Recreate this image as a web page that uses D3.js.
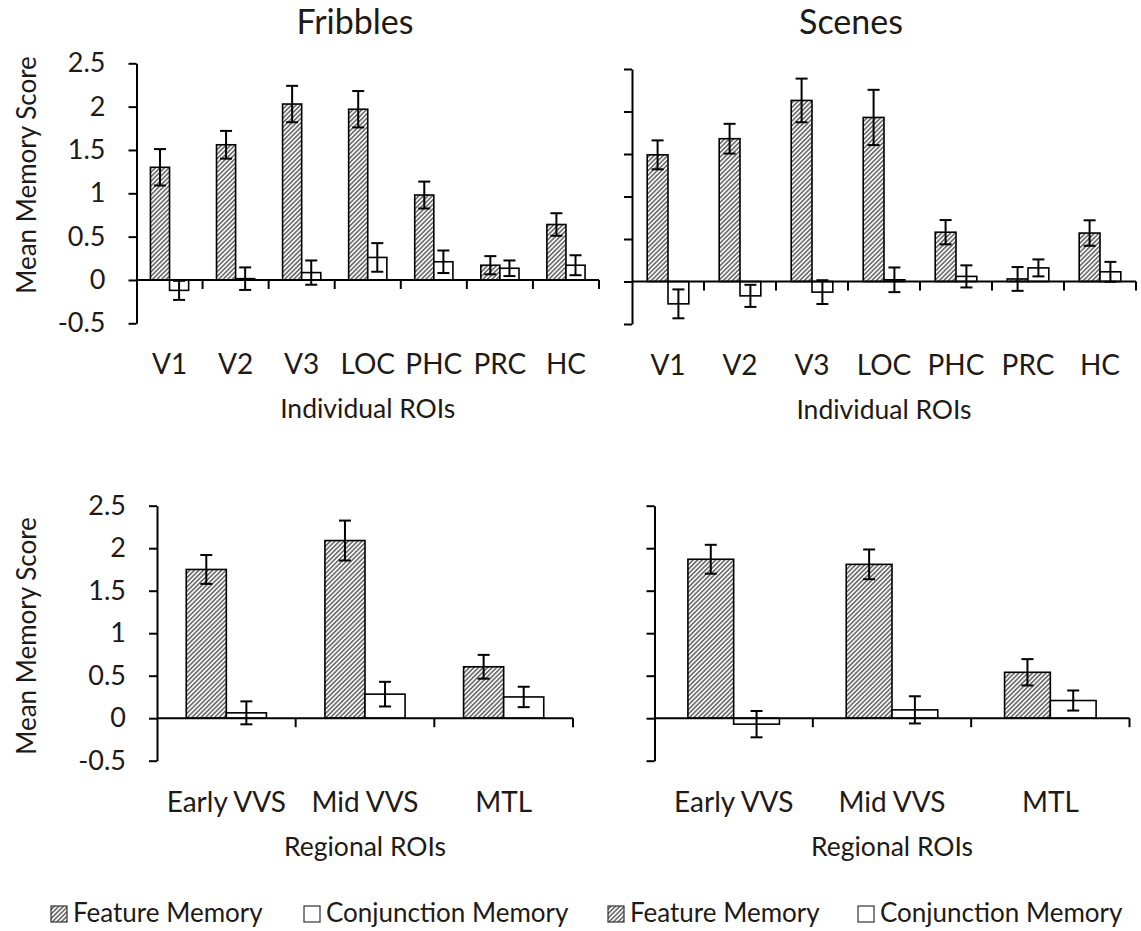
<!DOCTYPE html>
<html><head><meta charset="UTF-8">
  <title>Feature vs Conjunction Memory</title>
  <script src="https://cdn.jsdelivr.net/npm/d3@7"></script>
  <style>
    body { margin: 0; background: #fff; }
    text { font-family: Lato, "Open Sans", sans-serif; fill: #1e1a17; }
  </style>
</head>
<body>
  <svg width="1141" height="931"></svg>
  <script>
    // categories
    const individualROIs = ["V1", "V2", "V3", "LOC", "PHC", "PRC", "HC"];
    const regionalROIs = ["Early VVS", "Mid VVS", "MTL"];
    const series = ["Feature Memory", "Conjunction Memory"];
    const yTicks = [-0.5, 0, 0.5, 1, 1.5, 2, 2.5];

    // Fribbles, individual ROIs
    const fribIndFeature = [1.30, 1.56, 2.03, 1.97, 0.98, 0.17, 0.64];
    const fribIndFeatureErr = [0.21, 0.16, 0.21, 0.21, 0.155, 0.105, 0.13];
    const fribIndConj = [-0.12, 0.015, 0.085, 0.26, 0.21, 0.135, 0.17];
    const fribIndConjErr = [0.11, 0.13, 0.14, 0.165, 0.13, 0.09, 0.115];

    // Scenes, individual ROIs
    const sceneIndFeature = [1.49, 1.68, 2.13, 1.93, 0.58, 0.03, 0.57];
    const sceneIndFeatureErr = [0.17, 0.175, 0.257, 0.325, 0.143, 0.14, 0.15];
    const sceneIndConj = [-0.263, -0.169, -0.125, 0.02, 0.06, 0.16, 0.114];
    const sceneIndConjErr = [0.17, 0.13, 0.14, 0.145, 0.13, 0.10, 0.117];

    // Fribbles, regional ROIs
    const fribRegFeature = [1.75, 2.09, 0.605];
    const fribRegFeatureErr = [0.17, 0.235, 0.14];
    const fribRegConj = [0.063, 0.283, 0.25];
    const fribRegConjErr = [0.135, 0.145, 0.12];

    // Scenes, regional ROIs
    const sceneRegFeature = [1.87, 1.81, 0.54];
    const sceneRegFeatureErr = [0.17, 0.175, 0.155];
    const sceneRegConj = [-0.07, 0.098, 0.208];
    const sceneRegConjErr = [0.155, 0.16, 0.118];

    const svg = d3.select("svg");

    // hatch for the feature bars
    svg.append("defs").append("pattern")
        .attr("id", "hatch")
        .attr("patternUnits", "userSpaceOnUse")
        .attr("width", 3.2).attr("height", 3.2)
        .attr("patternTransform", "rotate(45)")
      .call(p => {
        p.append("rect").attr("width", 3.2).attr("height", 3.2).attr("fill", "#fff");
        p.append("rect").attr("width", 1.7).attr("height", 3.2).attr("fill", "#6f6f6f");
      });

    const fill = d3.scaleOrdinal().domain(series).range(["url(#hatch)", "#fff"]);
    const fmt = d => String(d);

    function drawPanel(p) {
      const g = svg.append("g");
      const y = d3.scaleLinear().domain([-0.5, 2.5]).range([p.yBot, p.yTop]);
      const x = d3.scaleBand().domain(p.cats).range([p.x0, p.x1]);
      const xs = d3.scaleBand().domain(series).range([0, x.bandwidth()]).paddingOuter(0.73);

      const rows = p.cats.map((c, i) => ({
        cat: c,
        vals: [
          {s: series[0], v: p.feat[i], e: p.featErr[i]},
          {s: series[1], v: p.conj[i], e: p.conjErr[i]}
        ]
      }));

      // y axis
      const ya = d3.axisLeft(y).tickValues(yTicks).tickSize(8).tickSizeOuter(0).tickPadding(23)
        .tickFormat(p.labels ? fmt : "");
      g.append("g").attr("transform", `translate(${p.x0},0)`).call(ya)
        .call(a => a.selectAll("path,line").attr("stroke", "#000").attr("stroke-width", 2))
        .call(a => a.selectAll("text").style("font-size", "27px").attr("fill", "#1e1a17"));

      // bars
      const grp = g.selectAll(".grp").data(rows).join("g")
        .attr("transform", d => `translate(${x(d.cat)},0)`);
      grp.selectAll("rect").data(d => d.vals).join("rect")
        .attr("x", d => xs(d.s))
        .attr("width", xs.bandwidth())
        .attr("y", d => y(Math.max(0, d.v)))
        .attr("height", d => Math.abs(y(d.v) - y(0)))
        .attr("fill", d => fill(d.s))
        .attr("stroke", "#000").attr("stroke-width", 1.6);

      // x baseline at zero with ticks on band edges
      g.append("line")
        .attr("x1", p.x0).attr("x2", p.x1).attr("y1", y(0)).attr("y2", y(0))
        .attr("stroke", "#000").attr("stroke-width", 2);
      g.selectAll(".xt").data(p.cats).join("line")
        .attr("x1", d => x(d) + x.bandwidth()).attr("x2", d => x(d) + x.bandwidth())
        .attr("y1", y(0)).attr("y2", y(0) + 9)
        .attr("stroke", "#000").attr("stroke-width", 2);

      // error bars
      const eb = grp.selectAll(".eb").data(d => d.vals).join("g")
        .attr("transform", d => `translate(${xs(d.s) + xs.bandwidth() / 2},0)`);
      eb.append("line").attr("y1", d => y(d.v - d.e)).attr("y2", d => y(d.v + d.e));
      eb.append("line").attr("x1", -6).attr("x2", 6).attr("y1", d => y(d.v + d.e)).attr("y2", d => y(d.v + d.e));
      eb.append("line").attr("x1", -6).attr("x2", 6).attr("y1", d => y(d.v - d.e)).attr("y2", d => y(d.v - d.e));
      eb.selectAll("line").attr("stroke", "#000").attr("stroke-width", 2);

      // category labels below the -0.5 line
      g.append("g").attr("transform", `translate(0,${p.yBot})`)
        .call(d3.axisBottom(x).tickSize(0))
        .call(a => a.select(".domain").remove())
        .call(a => a.selectAll("text").attr("y", 51).attr("dy", null)
          .style("font-size", "28px").attr("fill", "#1e1a17"));

      g.append("text")
        .attr("x", (p.x0 + p.x1) / 2).attr("y", p.yBot + 95)
        .attr("text-anchor", "middle").style("font-size", "26.5px")
        .text(p.xTitle);

      if (p.labels) {
        g.append("text")
          .attr("transform", `translate(36,${p.yTitle}) rotate(-90)`)
          .attr("text-anchor", "middle").style("font-size", "26px")
          .text("Mean Memory Score");
      }
      if (p.title) {
        g.append("text")
          .attr("x", p.titleX).attr("y", 34)
          .attr("text-anchor", "middle").style("font-size", "34px")
          .text(p.title);
      }
    }

    drawPanel({cats: individualROIs, x0: 136.5, x1: 599, yTop: 63.3, yBot: 323.3,
      feat: fribIndFeature, featErr: fribIndFeatureErr, conj: fribIndConj, conjErr: fribIndConjErr,
      labels: true, yTitle: 175, xTitle: "Individual ROIs", title: "Fribbles", titleX: 355});
    drawPanel({cats: individualROIs, x0: 632, x1: 1136, yTop: 69, yBot: 324,
      feat: sceneIndFeature, featErr: sceneIndFeatureErr, conj: sceneIndConj, conjErr: sceneIndConjErr,
      labels: false, xTitle: "Individual ROIs", title: "Scenes", titleX: 851});
    drawPanel({cats: regionalROIs, x0: 157, x1: 573, yTop: 505.7, yBot: 760.7,
      feat: fribRegFeature, featErr: fribRegFeatureErr, conj: fribRegConj, conjErr: fribRegConjErr,
      labels: true, yTitle: 636, xTitle: "Regional ROIs"});
    drawPanel({cats: regionalROIs, x0: 654.5, x1: 1129.5, yTop: 505.7, yBot: 760.7,
      feat: sceneRegFeature, featErr: sceneRegFeatureErr, conj: sceneRegConj, conjErr: sceneRegConjErr,
      labels: false, xTitle: "Regional ROIs"});

    // legend (drawn twice, as in the source figure)
    const legendItems = series.concat(series);
    const legendX = [51, 304, 608, 858];
    const legend = svg.append("g");
    legendItems.forEach((s, i) => {
      legend.append("rect")
        .attr("x", legendX[i]).attr("y", 906).attr("width", 16).attr("height", 16)
        .attr("fill", fill(s)).attr("stroke", "#333").attr("stroke-width", 1.2);
      legend.append("text")
        .attr("x", legendX[i] + 22).attr("y", 922)
        .style("font-size", "26px")
        .text(s);
    });
  </script>
</body></html>
